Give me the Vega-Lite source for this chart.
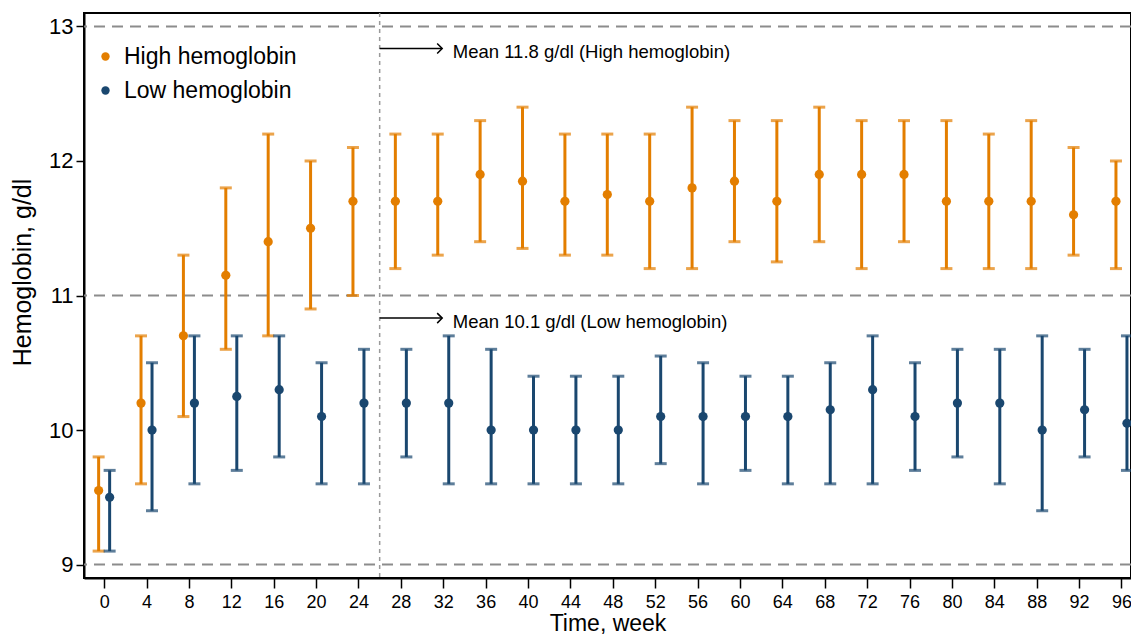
{
  "$schema": "https://vega.github.io/schema/vega-lite/v6.json",
  "autosize": "none",
  "width": 1047,
  "height": 565,
  "padding": {"left": 84, "top": 13, "right": 0, "bottom": 56},
  "background": "white",
  "config": {
    "font": "Liberation Sans",
    "view": {"stroke": "black", "strokeWidth": 2},
    "axis": {"grid": false, "domainColor": "black", "domainWidth": 2, "tickColor": "black", "tickWidth": 1.5, "labelColor": "black", "titleColor": "black", "titleFontWeight": "normal", "labelFont": "Liberation Sans", "titleFont": "Liberation Sans"}
  },
  "datasets": {
    "hb": [
      {"week": 0, "group": "High hemoglobin", "mean": 9.55, "lo": 9.1, "hi": 9.8},
      {"week": 4, "group": "High hemoglobin", "mean": 10.2, "lo": 9.6, "hi": 10.7},
      {"week": 8, "group": "High hemoglobin", "mean": 10.7, "lo": 10.1, "hi": 11.3},
      {"week": 12, "group": "High hemoglobin", "mean": 11.15, "lo": 10.6, "hi": 11.8},
      {"week": 16, "group": "High hemoglobin", "mean": 11.4, "lo": 10.7, "hi": 12.2},
      {"week": 20, "group": "High hemoglobin", "mean": 11.5, "lo": 10.9, "hi": 12.0},
      {"week": 24, "group": "High hemoglobin", "mean": 11.7, "lo": 11.0, "hi": 12.1},
      {"week": 28, "group": "High hemoglobin", "mean": 11.7, "lo": 11.2, "hi": 12.2},
      {"week": 32, "group": "High hemoglobin", "mean": 11.7, "lo": 11.3, "hi": 12.2},
      {"week": 36, "group": "High hemoglobin", "mean": 11.9, "lo": 11.4, "hi": 12.3},
      {"week": 40, "group": "High hemoglobin", "mean": 11.85, "lo": 11.35, "hi": 12.4},
      {"week": 44, "group": "High hemoglobin", "mean": 11.7, "lo": 11.3, "hi": 12.2},
      {"week": 48, "group": "High hemoglobin", "mean": 11.75, "lo": 11.3, "hi": 12.2},
      {"week": 52, "group": "High hemoglobin", "mean": 11.7, "lo": 11.2, "hi": 12.2},
      {"week": 56, "group": "High hemoglobin", "mean": 11.8, "lo": 11.2, "hi": 12.4},
      {"week": 60, "group": "High hemoglobin", "mean": 11.85, "lo": 11.4, "hi": 12.3},
      {"week": 64, "group": "High hemoglobin", "mean": 11.7, "lo": 11.25, "hi": 12.3},
      {"week": 68, "group": "High hemoglobin", "mean": 11.9, "lo": 11.4, "hi": 12.4},
      {"week": 72, "group": "High hemoglobin", "mean": 11.9, "lo": 11.2, "hi": 12.3},
      {"week": 76, "group": "High hemoglobin", "mean": 11.9, "lo": 11.4, "hi": 12.3},
      {"week": 80, "group": "High hemoglobin", "mean": 11.7, "lo": 11.2, "hi": 12.3},
      {"week": 84, "group": "High hemoglobin", "mean": 11.7, "lo": 11.2, "hi": 12.2},
      {"week": 88, "group": "High hemoglobin", "mean": 11.7, "lo": 11.2, "hi": 12.3},
      {"week": 92, "group": "High hemoglobin", "mean": 11.6, "lo": 11.3, "hi": 12.1},
      {"week": 96, "group": "High hemoglobin", "mean": 11.7, "lo": 11.2, "hi": 12.0},
      {"week": 0, "group": "Low hemoglobin", "mean": 9.5, "lo": 9.1, "hi": 9.7},
      {"week": 4, "group": "Low hemoglobin", "mean": 10.0, "lo": 9.4, "hi": 10.5},
      {"week": 8, "group": "Low hemoglobin", "mean": 10.2, "lo": 9.6, "hi": 10.7},
      {"week": 12, "group": "Low hemoglobin", "mean": 10.25, "lo": 9.7, "hi": 10.7},
      {"week": 16, "group": "Low hemoglobin", "mean": 10.3, "lo": 9.8, "hi": 10.7},
      {"week": 20, "group": "Low hemoglobin", "mean": 10.1, "lo": 9.6, "hi": 10.5},
      {"week": 24, "group": "Low hemoglobin", "mean": 10.2, "lo": 9.6, "hi": 10.6},
      {"week": 28, "group": "Low hemoglobin", "mean": 10.2, "lo": 9.8, "hi": 10.6},
      {"week": 32, "group": "Low hemoglobin", "mean": 10.2, "lo": 9.6, "hi": 10.7},
      {"week": 36, "group": "Low hemoglobin", "mean": 10.0, "lo": 9.6, "hi": 10.6},
      {"week": 40, "group": "Low hemoglobin", "mean": 10.0, "lo": 9.6, "hi": 10.4},
      {"week": 44, "group": "Low hemoglobin", "mean": 10.0, "lo": 9.6, "hi": 10.4},
      {"week": 48, "group": "Low hemoglobin", "mean": 10.0, "lo": 9.6, "hi": 10.4},
      {"week": 52, "group": "Low hemoglobin", "mean": 10.1, "lo": 9.75, "hi": 10.55},
      {"week": 56, "group": "Low hemoglobin", "mean": 10.1, "lo": 9.6, "hi": 10.5},
      {"week": 60, "group": "Low hemoglobin", "mean": 10.1, "lo": 9.7, "hi": 10.4},
      {"week": 64, "group": "Low hemoglobin", "mean": 10.1, "lo": 9.6, "hi": 10.4},
      {"week": 68, "group": "Low hemoglobin", "mean": 10.15, "lo": 9.6, "hi": 10.5},
      {"week": 72, "group": "Low hemoglobin", "mean": 10.3, "lo": 9.6, "hi": 10.7},
      {"week": 76, "group": "Low hemoglobin", "mean": 10.1, "lo": 9.7, "hi": 10.5},
      {"week": 80, "group": "Low hemoglobin", "mean": 10.2, "lo": 9.8, "hi": 10.6},
      {"week": 84, "group": "Low hemoglobin", "mean": 10.2, "lo": 9.6, "hi": 10.6},
      {"week": 88, "group": "Low hemoglobin", "mean": 10.0, "lo": 9.4, "hi": 10.7},
      {"week": 92, "group": "Low hemoglobin", "mean": 10.15, "lo": 9.8, "hi": 10.6},
      {"week": 96, "group": "Low hemoglobin", "mean": 10.05, "lo": 9.7, "hi": 10.7}
    ],
    "refs": [{"v": 9}, {"v": 11}, {"v": 13}],
    "notes": [
      {"x0": 26, "x1": 31.9, "y": 12.836, "tx": 32.9, "ty": 12.81, "label": "Mean 11.8 g/dl (High hemoglobin)"},
      {"x0": 26, "x1": 31.9, "y": 10.832, "tx": 32.9, "ty": 10.80, "label": "Mean 10.1 g/dl (Low hemoglobin)"}
    ]
  },
  "encoding": {
    "x": {"type": "quantitative", "scale": {"domain": [-1.9, 96.9], "nice": false, "zero": false},
      "axis": {"values": [0,4,8,12,16,20,24,28,32,36,40,44,48,52,56,60,64,68,72,76,80,84,88,92,96], "title": "Time, week", "labelFontSize": 18, "tickSize": 10, "labelPadding": 5, "titleFontSize": 23, "titlePadding": 1}},
    "y": {"type": "quantitative", "scale": {"domain": [8.9, 13.1], "nice": false, "zero": false},
      "axis": {"values": [9,10,11,12,13], "title": "Hemoglobin, g/dl", "labelFontSize": 22, "tickSize": 8, "labelPadding": 3, "titleFontSize": 25, "titleX": -62, "titleY": 259, "titleAngle": -90, "titleAlign": "center", "titleBaseline": "middle"}}
  },
  "layer": [
    {"data": {"name": "refs"}, "mark": {"type": "rule", "color": "#8c8c8c", "strokeWidth": 2, "strokeDash": [11, 7]},
      "encoding": {"y": {"field": "v", "type": "quantitative"}}},
    {"data": {"values": [{"w": 26}]}, "mark": {"type": "rule", "color": "#9a9a9a", "strokeWidth": 1.5, "strokeDash": [4, 4]},
      "encoding": {"x": {"field": "w", "type": "quantitative"}}},
    {"data": {"name": "hb"}, "transform": [{"filter": "datum.group == 'High hemoglobin'"}],
      "mark": {"type": "rule", "color": "#e37e00", "strokeWidth": 3, "xOffset": -5.5},
      "encoding": {"x": {"field": "week"}, "y": {"field": "lo"}, "y2": {"field": "hi"}}},
    {"data": {"name": "hb"}, "transform": [{"filter": "datum.group == 'High hemoglobin'"}],
      "mark": {"type": "tick", "orient": "horizontal", "color": "#e37e00", "size": 12, "thickness": 3, "xOffset": -5.5},
      "encoding": {"x": {"field": "week"}, "y": {"field": "lo"}}},
    {"data": {"name": "hb"}, "transform": [{"filter": "datum.group == 'High hemoglobin'"}],
      "mark": {"type": "tick", "orient": "horizontal", "color": "#e37e00", "size": 12, "thickness": 3, "xOffset": -5.5},
      "encoding": {"x": {"field": "week"}, "y": {"field": "hi"}}},
    {"data": {"name": "hb"}, "transform": [{"filter": "datum.group == 'Low hemoglobin'"}],
      "mark": {"type": "rule", "color": "#1a476f", "strokeWidth": 3, "xOffset": 5.5},
      "encoding": {"x": {"field": "week"}, "y": {"field": "lo"}, "y2": {"field": "hi"}}},
    {"data": {"name": "hb"}, "transform": [{"filter": "datum.group == 'Low hemoglobin'"}],
      "mark": {"type": "tick", "orient": "horizontal", "color": "#1a476f", "size": 12, "thickness": 3, "xOffset": 5.5},
      "encoding": {"x": {"field": "week"}, "y": {"field": "lo"}}},
    {"data": {"name": "hb"}, "transform": [{"filter": "datum.group == 'Low hemoglobin'"}],
      "mark": {"type": "tick", "orient": "horizontal", "color": "#1a476f", "size": 12, "thickness": 3, "xOffset": 5.5},
      "encoding": {"x": {"field": "week"}, "y": {"field": "hi"}}},
    {"data": {"name": "hb"}, "transform": [{"filter": "datum.group == 'High hemoglobin'"}],
      "mark": {"type": "point", "shape": "circle", "filled": true, "opacity": 1, "size": 85, "xOffset": -5.5},
      "encoding": {"x": {"field": "week"}, "y": {"field": "mean"},
        "color": {"field": "group", "type": "nominal", "scale": {"domain": ["High hemoglobin", "Low hemoglobin"], "range": ["#e37e00", "#1a476f"]},
          "legend": {"title": null, "orient": "none", "legendX": 10, "legendY": 32, "symbolType": "circle", "symbolSize": 70, "symbolStrokeWidth": 0, "labelFontSize": 23, "labelLimit": 0, "labelFont": "Liberation Sans", "labelColor": "black", "rowPadding": 10, "labelOffset": 7, "padding": 0}}}},
    {"data": {"name": "hb"}, "transform": [{"filter": "datum.group == 'Low hemoglobin'"}],
      "mark": {"type": "point", "shape": "circle", "filled": true, "opacity": 1, "size": 85, "xOffset": 5.5},
      "encoding": {"x": {"field": "week"}, "y": {"field": "mean"},
        "color": {"field": "group", "type": "nominal",
          "legend": {"title": null, "orient": "none", "legendX": 10, "legendY": 32, "symbolType": "circle", "symbolSize": 70, "symbolStrokeWidth": 0, "labelFontSize": 23, "labelLimit": 0, "labelFont": "Liberation Sans", "labelColor": "black", "rowPadding": 10, "labelOffset": 7, "padding": 0}}}},
    {"data": {"name": "notes"}, "mark": {"type": "rule", "color": "black", "strokeWidth": 1.5},
      "encoding": {"x": {"field": "x0"}, "x2": {"field": "x1"}, "y": {"field": "y"}}},
    {"data": {"name": "notes"}, "mark": {"type": "point", "shape": "M-1,-1L0,0L-1,1", "filled": false, "stroke": "black", "strokeWidth": 1.5, "size": 100, "opacity": 1},
      "encoding": {"x": {"field": "x1"}, "y": {"field": "y"}}},
    {"data": {"name": "notes"}, "mark": {"type": "text", "align": "left", "baseline": "middle", "fontSize": 18.5, "font": "Liberation Sans", "color": "black"},
      "encoding": {"x": {"field": "tx"}, "y": {"field": "ty"}, "text": {"field": "label"}}}
  ]
}
